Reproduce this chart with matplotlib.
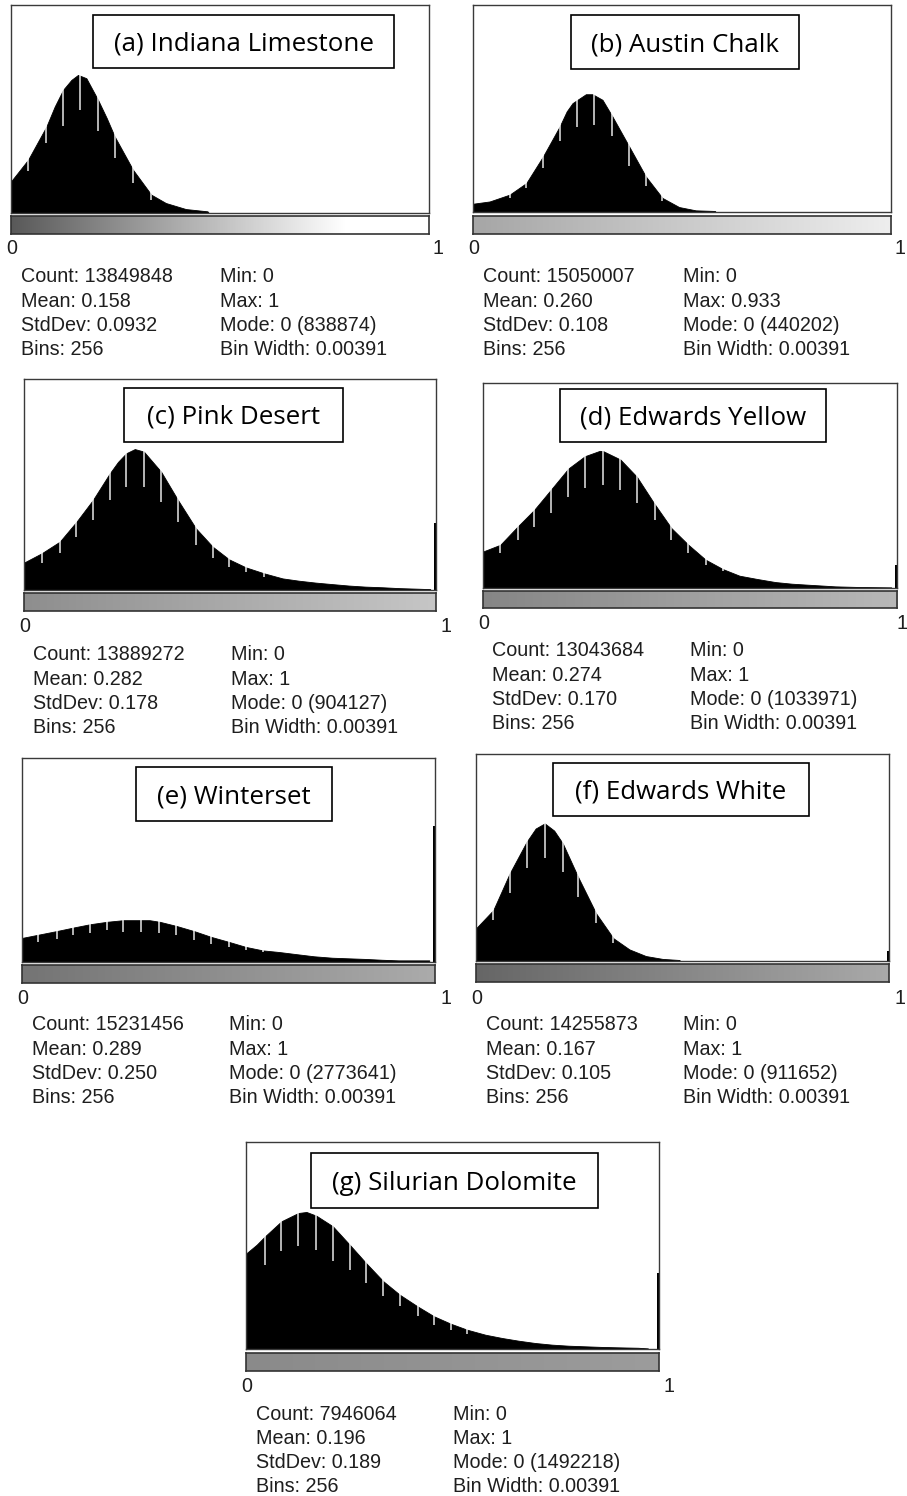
import numpy as np
import matplotlib
matplotlib.use('Agg')
import matplotlib.pyplot as plt
from matplotlib.patches import Rectangle
from matplotlib.colors import LinearSegmentedColormap

W, H = 907, 1496

# ---- data (x as fraction of 0..1 range, height as fraction of box) ----
titles = ['(a) Indiana Limestone', '(b) Austin Chalk', '(c) Pink Desert', '(d) Edwards Yellow',
          '(e) Winterset', '(f) Edwards White', '(g) Silurian Dolomite']

counts = ['13849848', '15050007', '13889272', '13043684', '15231456', '14255873', '7946064']
means = ['0.158', '0.260', '0.282', '0.274', '0.289', '0.167', '0.196']
stds = ['0.0932', '0.108', '0.178', '0.170', '0.250', '0.105', '0.189']
maxs = ['1', '0.933', '1', '1', '1', '1', '1']
modes = ['838874', '440202', '904127', '1033971', '2773641', '911652', '1492218']
bins = 256
bin_width = '0.00391'

x_a = [0, .041, .085, .105, .125, .145, .161, .181, .209, .230, .249, .293, .337, .372, .420, .472, .475]
h_a = [.152, .256, .416, .512, .592, .640, .664, .648, .544, .456, .368, .208, .088, .048, .019, .008, 0]
gx_a = [.041, .085, .125, .165, .209, .249, .293, .337]
gb_a = [.200, .336, .416, .496, .392, .264, .144, .064]

x_b = [0, .040, .088, .128, .168, .208, .225, .239, .271, .287, .311, .335, .375, .415, .455, .495, .535, .581, .583]
h_b = [.040, .051, .084, .140, .268, .413, .486, .526, .569, .569, .542, .461, .317, .172, .068, .024, .008, .005, 0]
gx_b = [.088, .128, .168, .208, .249, .291, .335, .375, .415, .455]
gb_b = [.068, .116, .212, .341, .413, .421, .365, .220, .124, .051]

x_c = [0, .043, .087, .128, .168, .209, .229, .249, .270, .292, .334, .375, .419, .460, .500, .541, .585,
       .630, .670, .711, .751, .792, .832, .873, .913, .962, .990]
h_c = [.130, .174, .229, .324, .427, .553, .607, .648, .668, .656, .561, .427, .292, .205, .145, .107, .079,
       .055, .044, .035, .028, .021, .016, .013, .009, .006, .004]
gx_c = [.043, .087, .126, .167, .209, .249, .292, .334, .375, .419, .460, .500, .541, .585]
gb_c = [.130, .177, .253, .332, .427, .490, .490, .419, .324, .213, .150, .111, .087, .063]

x_d = [0, .042, .084, .124, .164, .207, .247, .283, .291, .333, .373, .415, .457, .498, .540, .582,
       .622, .665, .709, .749, .789, .830, .854, .910, .990]
h_d = [.178, .211, .300, .381, .478, .583, .643, .669, .668, .627, .543, .413, .292, .211, .138, .092,
       .060, .044, .029, .021, .016, .011, .008, .005, .003]
gx_d = [.042, .084, .124, .164, .207, .247, .291, .333, .373, .416, .457, .498, .540, .582]
gb_d = [.170, .235, .300, .365, .446, .486, .502, .478, .413, .332, .235, .170, .113, .081]

x_e = [0, .040, .085, .125, .165, .206, .246, .286, .310, .335, .375, .419, .460, .504, .544, .585,
       .625, .669, .710, .754, .794, .835, .875, .915, .956, .990]
h_e = [.118, .134, .152, .169, .185, .197, .205, .205, .205, .197, .177, .151, .123, .098, .074, .057,
       .049, .038, .028, .021, .018, .015, .011, .008, .008, .008]
gx_e = [.040, .085, .125, .165, .206, .246, .290, .333, .375, .419, .460, .504, .544, .585]
gb_e = [.098, .115, .131, .143, .156, .148, .148, .143, .131, .107, .090, .074, .057, .049]

x_f = [0, .042, .082, .123, .145, .167, .190, .211, .248, .292, .334, .373, .413, .454, .494, .497]
h_f = [.158, .246, .424, .576, .640, .665, .630, .568, .407, .230, .110, .056, .024, .010, .005, 0]
gx_f = [.042, .082, .123, .167, .211, .248, .292, .334]
gb_f = [.198, .327, .448, .496, .432, .311, .182, .085]

x_g = [0, .026, .046, .086, .127, .147, .171, .211, .252, .292, .334, .374, .417, .457, .498, .538,
       .582, .623, .663, .703, .744, .784, .824, .865, .905, .953, .977]
h_g = [.461, .504, .544, .617, .657, .662, .644, .593, .504, .415, .327, .262, .206, .158, .122, .093,
       .069, .053, .040, .029, .021, .016, .013, .010, .008, .006, .003]
gx_g = [.046, .086, .127, .169, .211, .252, .292, .334, .374, .417, .457, .498, .538]
gb_g = [.407, .472, .496, .480, .424, .383, .319, .254, .206, .158, .118, .093, .074]

# height of the last bin (value 1), seen as a thin spike at the right edge
last_bin = [0, 0, .319, .113, .667, .050, .367]

# ---- layout in pixels: histogram box, lut bar, title box, stats rows ----
hist_box = [(11, 5, 429, 213), (473, 5, 891, 212), (24, 379, 436, 590), (483, 383, 897, 588),
            (22, 758, 435, 962), (476, 754, 889, 961), (246, 1142, 659, 1349)]
bar_box = [(11, 216, 429, 234), (473, 216, 891, 234), (24, 593, 436, 611), (483, 591, 897, 608),
           (22, 965, 435, 983), (476, 964, 889, 982), (246, 1353, 659, 1371)]
title_box = [(93, 15, 394, 68), (571, 15, 799, 69), (124, 388, 343, 442), (560, 389, 826, 442),
             (136, 767, 332, 821), (553, 763, 809, 816), (311, 1153, 598, 1208)]
tick_y = [249, 249, 626, 623, 998, 998, 1386]
tick1_x = [438, 900, 446, 902, 446, 900, 669]
stat_x = [(21, 220), (483, 683), (33, 231), (492, 690), (32, 229), (486, 683), (256, 453)]
stat_y0 = [277, 277, 655, 651, 1025, 1025, 1414]
lut = [[(0, '#595959'), (0.8, '#ffffff'), (1, '#ffffff')],
       [(0, '#a6a6a6'), (1, '#eeeeee')],
       [(0, '#8e8e8e'), (1, '#c6c6c6')],
       [(0, '#868686'), (1, '#b8b8b8')],
       [(0, '#747474'), (1, '#ababab')],
       [(0, '#666666'), (1, '#a9a9a9')],
       [(0, '#8a8a8a'), (1, '#9c9c9c')]]

xs = [x_a, x_b, x_c, x_d, x_e, x_f, x_g]
hs = [h_a, h_b, h_c, h_d, h_e, h_f, h_g]
gxs = [gx_a, gx_b, gx_c, gx_d, gx_e, gx_f, gx_g]
gbs = [gb_a, gb_b, gb_c, gb_d, gb_e, gb_f, gb_g]


def px_axes(fig, box):
    x0, y0, x1, y1 = box
    return fig.add_axes([x0 / W, 1 - y1 / H, (x1 - x0) / W, (y1 - y0) / H])


def ftext(fig, x, y, s, **kw):
    fig.text(x / W, 1 - y / H, s, **kw)


fig = plt.figure(figsize=(W / 100, H / 100), dpi=100)
stat_font = dict(family=['Liberation Sans', 'DejaVu Sans'], fontsize=14.2, color='#1e1e1e', va='center')

for i in range(7):
    ax = px_axes(fig, hist_box[i])
    ax.fill_between(xs[i], 0, hs[i], color='black', lw=0.6, edgecolor='black')
    # white gaps inside the histogram; above the curve they vanish into the white background
    ax.vlines(gxs[i], gbs[i], 0.99, color='white', lw=1.1, alpha=0.9)
    if last_bin[i] > 0:
        ax.bar(1.0, last_bin[i], width=0.004, align='edge', color='black', lw=0)
    ax.set_xlim(0, 1.004)
    ax.set_ylim(0, 1)
    ax.set_xticks([])
    ax.set_yticks([])
    for sp in ax.spines.values():
        sp.set_color('#3a3a3a')
        sp.set_linewidth(1.0)

    bx = px_axes(fig, bar_box[i])
    cmap = LinearSegmentedColormap.from_list('lut%d' % i, lut[i])
    bx.imshow(np.linspace(0, 1, 256)[None, :], cmap=cmap, aspect='auto', extent=[0, 1, 0, 1])
    bx.set_xticks([])
    bx.set_yticks([])
    for sp in bx.spines.values():
        sp.set_color('#333333')
        sp.set_linewidth(1.2)

    # title box
    x0, y0, x1, y1 = title_box[i]
    fig.add_artist(Rectangle((x0 / W, 1 - y1 / H), (x1 - x0) / W, (y1 - y0) / H,
                             transform=fig.transFigure, facecolor='white', edgecolor='black',
                             lw=1.2, zorder=5))
    ftext(fig, (x0 + x1) / 2, (y0 + y1) / 2 + 2.5, titles[i], ha='center', va='center',
          family=['Open Sans', 'DejaVu Sans'], fontsize=18.6, color='black', zorder=6)

    # tick labels under the lut bar
    ftext(fig, hist_box[i][0] + 1, tick_y[i], '0', ha='center', **stat_font)
    ftext(fig, tick1_x[i], tick_y[i], '1', ha='center', **stat_font)

    # stats
    c1, c2 = stat_x[i]
    left = ['Count: ' + counts[i], 'Mean: ' + means[i], 'StdDev: ' + stds[i], 'Bins: %d' % bins]
    right = ['Min: 0', 'Max: ' + maxs[i], 'Mode: 0 (' + modes[i] + ')', 'Bin Width: ' + bin_width]
    for k in range(4):
        ftext(fig, c1, stat_y0[i] + 24.3 * k, left[k], ha='left', **stat_font)
        ftext(fig, c2, stat_y0[i] + 24.3 * k, right[k], ha='left', **stat_font)

fig.savefig('out.png', dpi=100)
